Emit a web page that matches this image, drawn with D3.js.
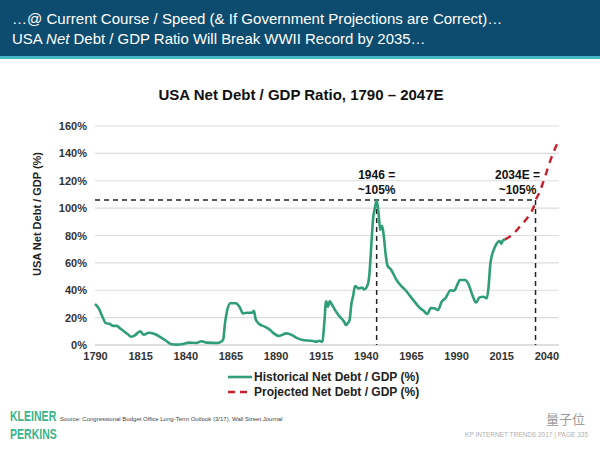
<!DOCTYPE html>
<html>
<head>
<meta charset="utf-8">
<script src="https://cdn.jsdelivr.net/npm/d3@7"></script>
<style>
  html, body { margin: 0; padding: 0; background: #fff; }
  svg { display: block; font-family: "Liberation Sans", Arial, sans-serif; }
</style>
</head>
<body>
<svg id="chart" width="600" height="450"></svg>
<script>
// ---- data ----
const histYears = [1790,1792,1794,1796,1798,1800,1802,1804,1806,1808,1810,1812,1815,1817,1820,1823,1826,1829,1832,1835,1838,1842,1846,1849,1852,1858,1860,1861,1862,1863,1865,1868,1870,1872,1874,1877,1878,1879,1881,1884,1887,1889,1892,1896,1899,1902,1905,1910,1913,1914,1916,1917,1918,1919,1920,1921,1923,1925,1928,1929,1930,1931,1932,1933,1934,1936,1938,1939,1941,1942,1943,1944,1945,1946,1947,1948,1949,1950,1951,1952,1954,1957,1959,1962,1965,1968,1970,1972,1974,1976,1978,1980,1982,1984,1987,1989,1990,1991,1992,1995,1997,1999,2001,2003,2005,2007,2008,2009,2011,2012,2014,2015,2016,2017];
const histValues = [30,27,21,16,15.5,14,14,12,10,8,6,7,10,7.5,9,8,6,3.5,0.7,0.3,0.5,1.7,1.5,2.7,1.7,1.5,2.5,4,16,24,30.5,30.5,28,23,23.6,23.6,25,18.8,15.3,13.4,11,8.5,6.6,8.5,7.3,5,3.6,3.1,2.4,3.1,2.4,16,32,28,32,30,25.5,21.5,17,14.6,16,18,30,36,43,41.4,42,40.6,43.8,52,72,92,100,105.5,97,84,87,79,66,58,55,47.5,44,40,35,30,27,25,22.6,27,26.8,25.5,31.6,34,40,39.6,42,45,47.5,47.5,44,36.5,31,34.8,35.3,34,42.6,59.6,70,73,76,74,76.5,77];
const projYears = [2017,2020,2023,2026,2029,2031,2033,2034,2036,2038,2040,2042,2044,2047];
const projValues = [77,79.5,83,87.5,92,96,101,105.5,111,118,126,134,141,150];
const yTicks = [0,20,40,60,80,100,120,140,160];
const xTicks = [1790,1815,1840,1865,1890,1915,1940,1965,1990,2015,2040];
const refValue = 106;
const refYears = [1946, 2034];
const refLabels = [["1946 =", "~105%"], ["2034E =", "~105%"]];
const seriesNames = ["Historical Net Debt / GDP (%)", "Projected Net Debt / GDP (%)"];

const GREEN = "#2f9e76", RED = "#c8202f";

const svg = d3.select("#chart");

// fit a text element's font-size to a target width
function fitWidth(sel, base, target) {
  const w = sel.node().getComputedTextLength();
  if (w > 0) sel.attr("font-size", base * target / w);
}

// header band
svg.append("rect").attr("x",0).attr("y",0).attr("width",600).attr("height",56).attr("fill","#0e4c6f");
svg.append("rect").attr("x",0).attr("y",56).attr("width",600).attr("height",3).attr("fill","#45b8c6");
const h1 = svg.append("text").attr("x",12).attr("y",24).attr("fill","#fff").attr("font-size",18)
  .text("…@ Current Course / Speed (& If Government Projections are Correct)…");
fitWidth(h1, 18, 491);
const h2 = svg.append("text").attr("x",12).attr("y",44).attr("fill","#fff").attr("font-size",18);
h2.append("tspan").text("USA ");
h2.append("tspan").attr("font-style","italic").text("Net");
h2.append("tspan").text(" Debt / GDP Ratio Will Break WWII Record by 2035…");
fitWidth(h2, 18, 414);

// chart title
svg.append("text").attr("x",301).attr("y",100).attr("text-anchor","middle")
  .attr("font-size",15).attr("font-weight","bold").attr("fill","#111")
  .text("USA Net Debt / GDP Ratio, 1790 – 2047E");

const x = d3.scaleLinear().domain([1790, 2047]).range([95, 559]);
const y = d3.scaleLinear().domain([0, 160]).range([345, 126]);

// gridlines
svg.append("g").selectAll("line").data(yTicks).join("line")
  .attr("x1", x(1790)).attr("x2", x(2047))
  .attr("y1", d => y(d)).attr("y2", d => y(d))
  .attr("stroke", d => d === 0 ? "#bdbdbd" : "#dcdcdc").attr("stroke-width", 1.2);

// y axis labels
const yAxis = d3.axisLeft(y).tickValues(yTicks).tickSize(0).tickPadding(0).tickFormat(d => d + "%");
const gy = svg.append("g").attr("transform", "translate(87,0)").call(yAxis);
gy.select(".domain").remove();
gy.selectAll("text").attr("font-size", 11).attr("font-weight","bold").attr("fill","#333")
  .attr("font-family","'Liberation Sans', Arial, sans-serif");

// x axis labels
const xAxis = d3.axisBottom(x).tickValues(xTicks).tickSize(0).tickPadding(0).tickFormat(d3.format("d"));
const gx = svg.append("g").attr("transform", "translate(0,352)").call(xAxis);
gx.select(".domain").remove();
gx.selectAll("text").attr("font-size", 11).attr("font-weight","bold").attr("fill","#333")
  .attr("font-family","'Liberation Sans', Arial, sans-serif");

// y axis title
svg.append("text").attr("transform","translate(41,214) rotate(-90)").attr("text-anchor","middle")
  .attr("font-size",11).attr("font-weight","bold").attr("fill","#222")
  .text("USA Net Debt / GDP (%)");

// reference dashed lines
svg.append("line").attr("x1", x(1790)).attr("x2", x(refYears[1]))
  .attr("y1", y(refValue)).attr("y2", y(refValue))
  .attr("stroke","#222").attr("stroke-width",1.5).attr("stroke-dasharray","5,4");
svg.append("g").selectAll("line").data(refYears).join("line")
  .attr("x1", d => x(d)).attr("x2", d => x(d))
  .attr("y1", y(refValue)).attr("y2", y(0))
  .attr("stroke","#222").attr("stroke-width",1.5).attr("stroke-dasharray","5,4");

// series lines
const histData = histYears.map((yr,i) => [yr, histValues[i]]);
const projData = projYears.map((yr,i) => [yr, projValues[i]]);
const lineGen = d3.line().x(d => x(d[0])).y(d => y(d[1])).curve(d3.curveMonotoneX);
svg.append("path").datum(histData).attr("d", lineGen).attr("fill","none")
  .attr("stroke", GREEN).attr("stroke-width", 2.6).attr("stroke-linejoin","round");
svg.append("path").datum(projData).attr("d", lineGen).attr("fill","none")
  .attr("stroke", RED).attr("stroke-width", 2.4).attr("stroke-dasharray","7,6");

// annotations
refYears.forEach((yr, i) => {
  const cx = i === 0 ? x(yr) : x(yr) - 18;
  refLabels[i].forEach((t, j) => {
    svg.append("text").attr("x", cx).attr("y", 179 + j*15).attr("text-anchor","middle")
      .attr("font-size", 12).attr("font-weight","bold").attr("fill","#111").text(t);
  });
});

// legend
const legend = svg.append("g");
legend.append("line").attr("x1",228).attr("x2",252).attr("y1",377).attr("y2",377)
  .attr("stroke",GREEN).attr("stroke-width",2.6);
legend.append("line").attr("x1",228).attr("x2",252).attr("y1",392).attr("y2",392)
  .attr("stroke",RED).attr("stroke-width",2.4).attr("stroke-dasharray","7,5");
seriesNames.forEach((n,i) => {
  legend.append("text").attr("x",254).attr("y",381 + i*15).attr("font-size",12)
    .attr("font-weight","bold").attr("fill","#222").text(n);
});

// footer
["KLEINER","PERKINS"].forEach((t,i) => {
  svg.append("text").attr("transform", `translate(10,${421 + i*18}) scale(0.68,1)`)
    .attr("font-size",15.5).attr("font-weight","bold").attr("fill","#3db38a").text(t);
});
svg.append("text").attr("x",60).attr("y",421).attr("font-size",6).attr("fill","#444")
  .text("Source: Congressional Budget Office Long-Term Outlook (3/17), Wall Street Journal");
svg.append("text").attr("x",588).attr("y",437).attr("text-anchor","end").attr("font-size",6.5).attr("fill","#b0b0b0")
  .text("KP INTERNET TRENDS 2017  |  PAGE 335");
svg.append("text").attr("x",585).attr("y",424).attr("text-anchor","end").attr("font-size",13)
  .attr("font-family","'Noto Sans CJK SC', sans-serif").attr("fill","#9a9a9a")
  .text("量子位");
</script>
</body>
</html>
